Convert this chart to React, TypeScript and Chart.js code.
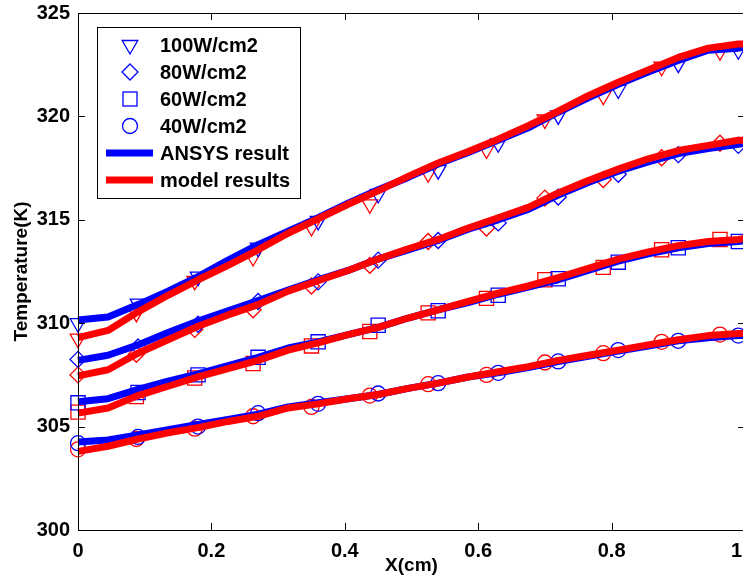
import React, { useEffect, useRef } from 'react';
import { Chart, registerables } from 'chart.js';
Chart.register(...registerables);

// x positions of the continuous curves (cm)
const xLine = [0, 0.045, 0.09, 0.135, 0.18, 0.225, 0.27, 0.315, 0.36, 0.405, 0.45, 0.495, 0.54, 0.585, 0.63, 0.675, 0.72, 0.765, 0.81, 0.855, 0.9, 0.945, 0.99, 1.0];

const ansys100 = [310.15, 310.3, 310.9, 311.55, 312.25, 313.05, 313.8, 314.45, 315.1, 315.8, 316.45, 317.05, 317.7, 318.25, 318.85, 319.45, 320.2, 320.9, 321.55, 322.15, 322.7, 323.2, 323.3, 323.35];
const model100 = [309.3, 309.65, 310.55, 311.35, 312.1, 312.8, 313.55, 314.35, 315.05, 315.75, 316.4, 317.1, 317.75, 318.3, 318.9, 319.55, 320.25, 321.0, 321.65, 322.25, 322.85, 323.3, 323.5, 323.5];
const ansys80 = [308.2, 308.45, 308.95, 309.55, 310.1, 310.6, 311.1, 311.6, 312.1, 312.55, 313.1, 313.55, 314.0, 314.55, 315.0, 315.5, 316.2, 316.8, 317.35, 317.8, 318.2, 318.45, 318.65, 318.7];
const model80 = [307.45, 307.75, 308.55, 309.2, 309.85, 310.4, 310.9, 311.55, 312.05, 312.55, 313.1, 313.6, 314.05, 314.6, 315.1, 315.6, 316.3, 316.9, 317.45, 317.95, 318.35, 318.6, 318.85, 318.85];
const ansys60 = [306.2, 306.35, 306.8, 307.2, 307.55, 307.95, 308.35, 308.8, 309.1, 309.45, 309.8, 310.25, 310.65, 311.0, 311.4, 311.75, 312.1, 312.55, 313.0, 313.35, 313.65, 313.85, 313.95, 314.0];
const model60 = [305.65, 305.9, 306.5, 306.95, 307.4, 307.8, 308.2, 308.7, 309.05, 309.45, 309.8, 310.25, 310.65, 311.05, 311.45, 311.8, 312.2, 312.65, 313.1, 313.45, 313.75, 313.95, 314.05, 314.1];
const ansys40 = [304.25, 304.35, 304.6, 304.85, 305.1, 305.35, 305.6, 305.95, 306.15, 306.35, 306.55, 306.85, 307.1, 307.4, 307.6, 307.85, 308.15, 308.4, 308.65, 308.9, 309.15, 309.3, 309.4, 309.4];
const model40 = [303.8, 304.05, 304.4, 304.7, 304.95, 305.25, 305.5, 305.9, 306.1, 306.35, 306.55, 306.85, 307.1, 307.4, 307.65, 307.9, 308.2, 308.45, 308.7, 308.95, 309.2, 309.4, 309.5, 309.5];

// marker positions
const xMarkAnsys = [0, 0.09, 0.18, 0.27, 0.36, 0.45, 0.54, 0.63, 0.72, 0.81, 0.9, 0.99];
const xMarkModel = [0, 0.0875, 0.175, 0.2625, 0.35, 0.4375, 0.525, 0.6125, 0.7, 0.7875, 0.875, 0.9625];

const markAnsys100 = [310.0, 310.95, 312.25, 313.65, 314.95, 316.25, 317.4, 318.7, 320.05, 321.3, 322.55, 323.2];
const markModel100 = [309.25, 310.5, 312.05, 313.2, 314.65, 315.75, 317.25, 318.4, 319.85, 321.0, 322.4, 323.15];
const markAnsys80 = [308.25, 308.85, 309.95, 311.05, 312.0, 313.05, 314.0, 314.85, 316.1, 317.2, 318.15, 318.6];
const markModel80 = [307.5, 308.5, 309.7, 310.65, 311.8, 312.8, 313.95, 314.6, 316.05, 316.95, 318.0, 318.7];
const markAnsys60 = [306.15, 306.65, 307.5, 308.35, 309.1, 309.9, 310.6, 311.35, 312.15, 312.95, 313.65, 313.95];
const markModel60 = [305.7, 306.45, 307.35, 308.05, 308.9, 309.6, 310.5, 311.2, 312.1, 312.7, 313.55, 314.05];
const markAnsys40 = [304.2, 304.5, 305.0, 305.65, 306.1, 306.6, 307.1, 307.6, 308.15, 308.7, 309.15, 309.4];
const markModel40 = [303.9, 304.4, 304.9, 305.5, 305.95, 306.5, 307.05, 307.5, 308.1, 308.55, 309.1, 309.45];

const xTicks = [0, 0.2, 0.4, 0.6, 0.8, 1];
const yTicks = [300, 305, 310, 315, 320, 325];

const legendLabels = ['100W/cm2', '80W/cm2', '60W/cm2', '40W/cm2', 'ANSYS result', 'model results'];

const BLUE = '#0000ff';
const RED = '#ff0000';
const FONT = '"Liberation Sans", Arial, Helvetica, sans-serif';

const xy = (xs: number[], ys: number[]) => xs.map((x, i) => ({ x, y: ys[i] }));

const boxPlugin = {
  id: 'matlabBox',
  afterDatasetsDraw(chart: any) {
    const { ctx, chartArea, scales } = chart;
    const { left, right, top, bottom } = chartArea;
    ctx.save();
    ctx.strokeStyle = '#000';
    ctx.lineWidth = 1;
    ctx.beginPath();
    ctx.rect(Math.round(left) + 0.5, Math.round(top) + 0.5, Math.round(right - left), Math.round(bottom - top));
    ctx.stroke();
    const tl = 7;
    ctx.beginPath();
    xTicks.forEach((v) => {
      const px = Math.round(scales.x.getPixelForValue(v)) + 0.5;
      ctx.moveTo(px, bottom);
      ctx.lineTo(px, bottom - tl);
      ctx.moveTo(px, top);
      ctx.lineTo(px, top + tl);
    });
    yTicks.forEach((v) => {
      const py = Math.round(scales.y.getPixelForValue(v)) + 0.5;
      ctx.moveTo(left, py);
      ctx.lineTo(left + tl, py);
      ctx.moveTo(right, py);
      ctx.lineTo(right - tl, py);
    });
    ctx.stroke();
    ctx.restore();
  },
};

const legendPlugin = {
  id: 'matlabLegend',
  afterDraw(chart: any) {
    const ctx = chart.ctx;
    const bx = 97, by = 27, bw = 203, bh = 171;
    ctx.save();
    ctx.fillStyle = '#fff';
    ctx.fillRect(bx, by, bw, bh);
    ctx.strokeStyle = '#000';
    ctx.lineWidth = 1;
    ctx.strokeRect(bx + 0.5, by + 0.5, bw, bh);
    const rows = [45, 72, 99, 126, 153, 180];
    const sx = 130;
    ctx.strokeStyle = BLUE;
    ctx.lineWidth = 1.3;
    let cy = rows[0];
    const r = 9;
    ctx.beginPath();
    ctx.moveTo(sx, cy + r);
    ctx.lineTo(sx - r * 0.866, cy - r / 2);
    ctx.lineTo(sx + r * 0.866, cy - r / 2);
    ctx.closePath();
    ctx.stroke();
    cy = rows[1];
    ctx.beginPath();
    ctx.moveTo(sx, cy - 8);
    ctx.lineTo(sx + 8, cy);
    ctx.lineTo(sx, cy + 8);
    ctx.lineTo(sx - 8, cy);
    ctx.closePath();
    ctx.stroke();
    cy = rows[2];
    ctx.strokeRect(sx - 7, cy - 7, 14, 14);
    cy = rows[3];
    ctx.beginPath();
    ctx.arc(sx, cy, 7.5, 0, Math.PI * 2);
    ctx.stroke();
    ctx.lineWidth = 7;
    ctx.strokeStyle = BLUE;
    ctx.beginPath();
    ctx.moveTo(106, rows[4]);
    ctx.lineTo(153, rows[4]);
    ctx.stroke();
    ctx.strokeStyle = RED;
    ctx.beginPath();
    ctx.moveTo(106, rows[5]);
    ctx.lineTo(153, rows[5]);
    ctx.stroke();
    ctx.fillStyle = '#000';
    ctx.font = `bold 20px ${FONT}`;
    ctx.textBaseline = 'middle';
    ctx.textAlign = 'left';
    legendLabels.forEach((t, i) => ctx.fillText(t, 160, rows[i] + 1));
    ctx.restore();
  },
};

export default function App() {
  const ref = useRef<HTMLCanvasElement>(null);
  useEffect(() => {
    if (!ref.current) return;
    const lineDs = (label: string, ys: number[], color: string, order: number) => ({
      label,
      data: xy(xLine, ys),
      showLine: true,
      borderColor: color,
      backgroundColor: color,
      borderWidth: 7,
      pointRadius: 0,
      borderJoinStyle: 'round' as const,
      borderCapStyle: 'butt' as const,
      clip: false as const,
      order,
    });
    const markDs = (label: string, xs: number[], ys: number[], color: string, style: string, radius: number, rotation = 0) => ({
      label,
      data: xy(xs, ys),
      showLine: false,
      borderColor: color,
      backgroundColor: 'rgba(0,0,0,0)',
      pointStyle: style,
      pointRadius: radius,
      pointRotation: rotation,
      pointBorderWidth: 1.3,
      borderWidth: 1.3,
      clip: false as const,
      order: 3,
    });
    const tickFont = { family: FONT, size: 20, weight: 'bold' as const };
    const titleFont = { family: FONT, size: 19, weight: 'bold' as const };
    const chart = new Chart(ref.current, {
      type: 'scatter',
      data: {
        datasets: [
          markDs('A100', xMarkAnsys, markAnsys100, BLUE, 'triangle', 9, 180),
          markDs('M100', xMarkModel, markModel100, RED, 'triangle', 9, 180),
          markDs('A80', xMarkAnsys, markAnsys80, BLUE, 'rectRot', 8),
          markDs('M80', xMarkModel, markModel80, RED, 'rectRot', 8),
          markDs('A60', xMarkAnsys, markAnsys60, BLUE, 'rect', 10),
          markDs('M60', xMarkModel, markModel60, RED, 'rect', 10),
          markDs('A40', xMarkAnsys, markAnsys40, BLUE, 'circle', 7.5),
          markDs('M40', xMarkModel, markModel40, RED, 'circle', 7.5),
          lineDs('ANSYS 100', ansys100, BLUE, 2),
          lineDs('ANSYS 80', ansys80, BLUE, 2),
          lineDs('ANSYS 60', ansys60, BLUE, 2),
          lineDs('ANSYS 40', ansys40, BLUE, 2),
          lineDs('model 100', model100, RED, 1),
          lineDs('model 80', model80, RED, 1),
          lineDs('model 60', model60, RED, 1),
          lineDs('model 40', model40, RED, 1),
        ] as any,
      },
      options: {
        animation: false,
        responsive: false,
        devicePixelRatio: 1,
        layout: { padding: { top: 13, right: 35, left: 0, bottom: 0 } },
        plugins: { legend: { display: false }, tooltip: { enabled: false } },
        scales: {
          x: {
            type: 'linear',
            min: 0,
            max: 1,
            afterBuildTicks: (s: any) => { s.ticks = xTicks.map((v) => ({ value: v })); },
            ticks: { font: tickFont, color: '#000', padding: 9, maxRotation: 0 },
            grid: { display: false, drawTicks: false },
            border: { display: false },
            title: { display: true, text: 'X(cm)', font: titleFont, color: '#000', padding: { top: 0, bottom: 4 } },
            afterFit: (s: any) => { s.height = 51; s.paddingLeft = 0; s.paddingRight = 0; s.paddingTop = 0; s.paddingBottom = 0; },
          },
          y: {
            type: 'linear',
            min: 300,
            max: 325,
            afterBuildTicks: (s: any) => { s.ticks = yTicks.map((v) => ({ value: v })); },
            ticks: { font: tickFont, color: '#000', padding: 8 },
            grid: { display: false, drawTicks: false },
            border: { display: false },
            title: { display: true, text: 'Temperature(K)', font: titleFont, color: '#000', padding: { top: 10, bottom: 0 } },
            afterFit: (s: any) => { s.width = 78; s.paddingTop = 0; s.paddingBottom = 0; s.paddingLeft = 0; s.paddingRight = 0; },
          },
        },
      } as any,
      plugins: [boxPlugin, legendPlugin],
    });
    return () => chart.destroy();
  }, []);
  return (
    <div style={{ position: 'fixed', left: 0, top: 0, width: 743, height: 581, overflow: 'hidden', background: '#fff' }}>
      <canvas ref={ref} width={780} height={581} style={{ width: 780, height: 581, display: 'block' }} />
    </div>
  );
}
